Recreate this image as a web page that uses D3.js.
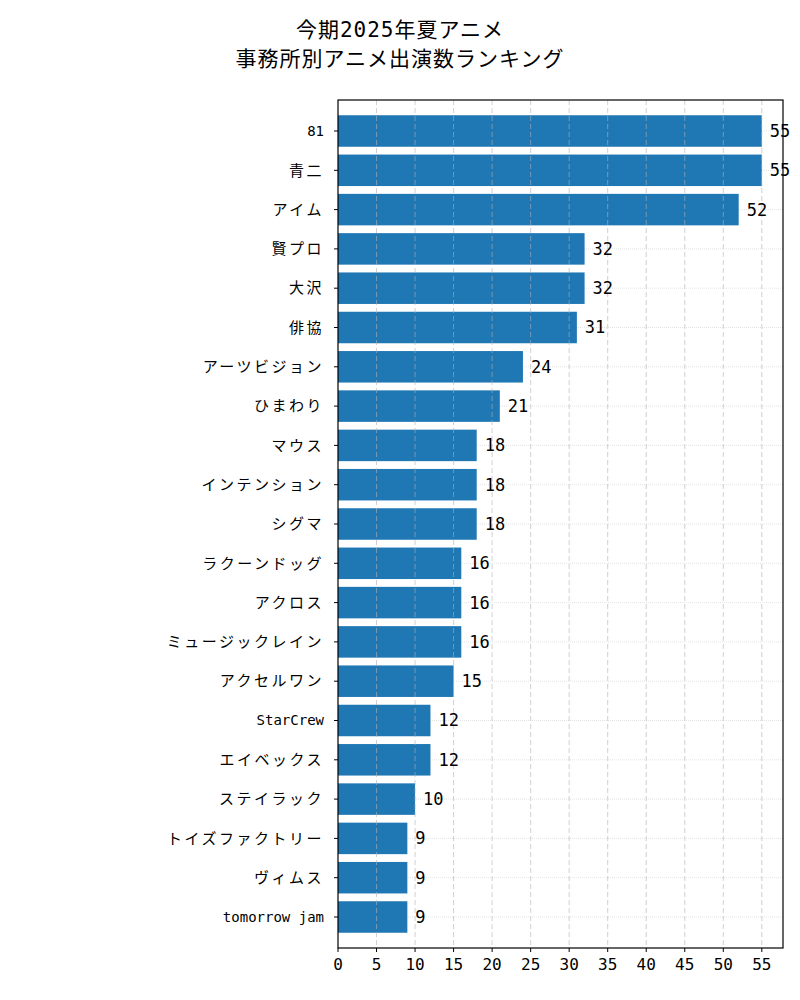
<!DOCTYPE html>
<html><head><meta charset="utf-8">
<script src="https://cdn.jsdelivr.net/npm/d3@7"></script>
<style>body{margin:0;background:#fff}text{font-family:"DejaVu Sans Mono","Noto Sans CJK JP",sans-serif}</style>
</head><body><svg id="c" width="800" height="1000"></svg>
<script>
const categories=["81","青二","アイム","賢プロ","大沢","俳協","アーツビジョン","ひまわり","マウス","インテンション","シグマ","ラクーンドッグ","アクロス","ミュージックレイン","アクセルワン","StarCrew","エイベックス","ステイラック","トイズファクトリー","ヴィムス","tomorrow jam"];
const values=[55,55,52,32,32,31,24,21,18,18,18,16,16,16,15,12,12,10,9,9,9];
const xTicks=[0,5,10,15,20,25,30,35,40,45,50,55];
const titleLines=["今期2025年夏アニメ","事務所別アニメ出演数ランキング"];

const svg=d3.select("#c");
const L=338,R=783,T=100,B=948;
const x=d3.scaleLinear().domain([0,57.75]).range([L,R]);
const y=d3.scaleBand().domain(categories).range([T+15.7-39.3*0.6+0.6*39.3-15.7+ -0, B]);
// matplotlib-like: centers at 131..917
const y2=d3.scaleLinear().domain([0,categories.length-1]).range([131,917]);
const bh=31.5;
// horizontal grid
svg.append("g").selectAll("line").data(categories).join("line")
 .attr("x1",L).attr("x2",R).attr("y1",(d,i)=>y2(i)).attr("y2",(d,i)=>y2(i))
 .attr("stroke","#ddd").attr("stroke-width",0.8).attr("stroke-dasharray","1,1");
svg.append("g").selectAll("rect").data(values).join("rect")
 .attr("x",x(0)).attr("y",(d,i)=>y2(i)-bh/2).attr("width",d=>x(d)-x(0)).attr("height",bh)
 .attr("fill","#1f77b4");
// vertical grid
svg.append("g").selectAll("line").data(xTicks.slice(1)).join("line")
 .attr("x1",d=>x(d)).attr("x2",d=>x(d)).attr("y1",T).attr("y2",B)
 .attr("stroke","#b0b0b0").attr("stroke-opacity",0.6).attr("stroke-width",1).attr("stroke-dasharray","5,3");
svg.append("rect").attr("x",L).attr("y",T).attr("width",R-L).attr("height",B-T).attr("fill","none").attr("stroke","#000").attr("stroke-width",1.2);
// value labels
svg.append("g").selectAll("text").data(values).join("text")
 .attr("x",d=>x(d)+8).attr("y",(d,i)=>y2(i)).attr("dy","0.35em")
 .attr("font-size",17).text(d=>d);
// y ticks
const yt=svg.append("g");
categories.forEach((c,i)=>{
 yt.append("line").attr("x1",L-4).attr("x2",L).attr("y1",y2(i)).attr("y2",y2(i)).attr("stroke","#000");
 yt.append("text").attr("x",L-14).attr("y",y2(i)).attr("dy","0.35em").attr("text-anchor","end")
  .attr("font-size",/^[\x00-\x7f]+$/.test(c)?14:15).attr("letter-spacing",/^[\x00-\x7f]+$/.test(c)?0:2.5).text(c);
});
// x ticks
const xt=svg.append("g");
xTicks.forEach(t=>{
 xt.append("line").attr("x1",x(t)).attr("x2",x(t)).attr("y1",B).attr("y2",B+4).attr("stroke","#000");
 xt.append("text").attr("x",x(t)).attr("y",B+22).attr("text-anchor","middle").attr("font-size",16).text(t);
});
svg.append("g").selectAll("text").data(titleLines).join("text")
 .attr("x",400).attr("y",(d,i)=>37+i*29).attr("text-anchor","middle").attr("font-size",21).attr("letter-spacing",1).text(d=>d);
</script></body></html>
